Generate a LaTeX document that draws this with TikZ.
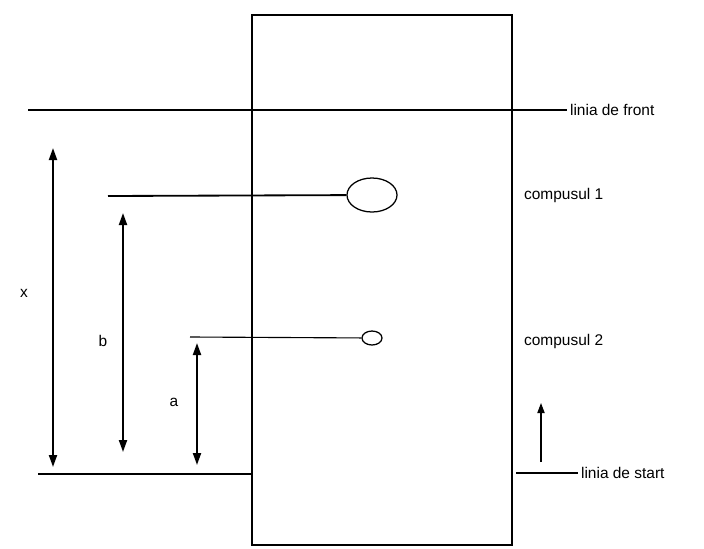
\documentclass[tikz,border=0pt]{standalone}
\usepackage{fontspec}
\setmainfont{Liberation Sans}
\usepackage{tikz}
\usetikzlibrary{arrows.meta, positioning, shapes.geometric}

\begin{document}
\begin{tikzpicture}[x=0.025cm, y=-0.025cm,
      font=\fontsize{11}{13}\selectfont,
      plate/.style={draw, line width=1.2pt, minimum width=6.5cm, minimum height=13.25cm, inner sep=0pt},
      spot/.style={draw, ellipse, line width=0.9pt, inner sep=0pt},
      lbl/.style={anchor=west, inner sep=2pt},
      ln/.style={line width=0.8pt},
      dim/.style={{Triangle[length=3mm, width=2mm]}-{Triangle[length=3mm, width=2mm]}, line width=1.4pt},
      arr/.style={-{Triangle[length=2.5mm, width=1.8mm]}, line width=0.8pt}
    ]
    \useasboundingbox (0,0) rectangle (704,548);

    % plate and spots
    \node[plate] (plate) at (382,280) {};
    \node[spot, minimum width=1.25cm, minimum height=0.85cm] (c1) at (372,195) {};
    \node[spot, minimum width=0.5cm, minimum height=0.35cm] (c2) at (372,338) {};

    % labels
    \node[lbl] (front) at (567,110) {linia de front};
    \node[lbl] (start) at (578,473) {linia de start};
    \node[lbl] (l1) at (521,195) {compusul 1};
    \node[lbl] (l2) at (521,341) {compusul 2};
    \node (xl) at (24,293) {x};
    \node (bl) at (103,341) {b};
    \node (al) at (174,402) {a};

    % coordinates
    \coordinate (f0) at (28,110);
    \coordinate (s0) at (38,474);
    \coordinate (s1) at (516,473);
    \coordinate (h1) at (108,196);
    \coordinate (h2) at (190,337);
    \coordinate (up0) at (541,462);
    \coordinate (up1) at (541,403);

    % lines
    \draw[ln] (f0) -- (front);
    \draw[ln] (s0) -- (s0 -| plate.west);
    \draw[ln] (s1) -- (start);
    \draw[line width=1.3pt] (h1) -- (c1);
    \draw[ln] (h2) -- (c2);
    \draw[arr] (up0) -- (up1);

    % distances
    \draw[dim] (53,148) -- (53,467);
    \draw[dim] (123,213) -- (123,452);
    \draw[dim] (197,343) -- (197,465);
  \end{tikzpicture}
\end{document}
